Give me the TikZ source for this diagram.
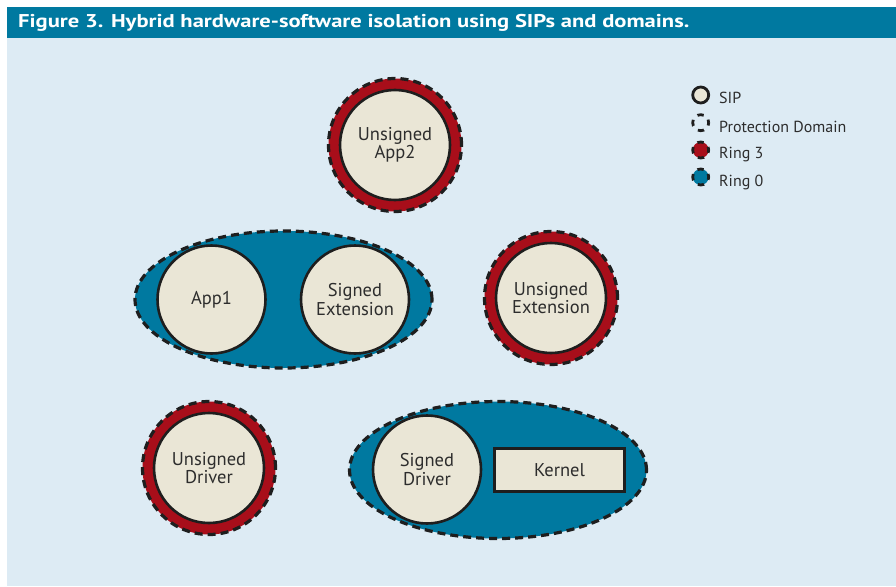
\documentclass[tikz,border=0pt]{standalone}
\usepackage{fontspec}
\setmainfont{PT Sans}
\newfontfamily\headfont{PT Sans}[FakeStretch=1.22]
\usetikzlibrary{shapes.geometric}

\definecolor{bandblue}{RGB}{0,121,160}
\definecolor{paleblue}{RGB}{221,235,244}
\definecolor{ringred}{RGB}{168,14,26}
\definecolor{ringblue}{RGB}{0,121,160}
\definecolor{cream}{RGB}{234,230,214}
\definecolor{ink}{RGB}{30,30,30}
\definecolor{txt}{RGB}{45,45,45}

\newcommand{\labelfont}{\fontsize{18.5}{18.5}\selectfont}
\newcommand{\legendfont}{\fontsize{16}{17}\selectfont}

\tikzset{
  sip/.style={circle, draw=ink, line width=2.6pt, fill=cream, inner sep=0pt,
    minimum size=110pt, align=center, text=txt, font=\labelfont},
  sipsmall/.style={sip, minimum size=108pt},
  ringthree/.style={circle, fill=ringred, draw=ink, line width=3.2pt,
    dash pattern=on 8pt off 5pt, inner sep=0pt, minimum size=133pt},
  protdomain/.style={ellipse, fill=ringblue, draw=ink, line width=3.2pt,
    dash pattern=on 8pt off 5pt, inner sep=0pt, minimum width=297pt, minimum height=137pt},
  kernelbox/.style={rectangle, draw=ink, line width=2.6pt, fill=cream, inner sep=0pt,
    minimum width=130pt, minimum height=43pt, text=txt, font=\labelfont},
  legicon/.style={circle, inner sep=0pt, minimum size=16pt, line width=2.8pt, draw=ink},
  legdash/.style={legicon, dash pattern=on 6.28pt off 6.28pt, dash phase=3.14pt},
  legtext/.style={anchor=west, text=txt, font=\legendfont, inner sep=0pt}
}

\begin{document}
\begin{tikzpicture}[x=1pt, y=-1pt]
  \useasboundingbox (0,0) rectangle (896,586);
  % page background and title band
  \fill[white] (0,0) rectangle (896,586);
  \fill[paleblue] (7,38) rectangle (896,586);
  \fill[bandblue] (7,7.5) rectangle (896,38);
  \node[anchor=west, inner sep=0pt, text=white, font=\headfont\bfseries\fontsize{18.5}{20}\selectfont]
    (title) at (18,23) {Figure 3. Hybrid hardware-software isolation using SIPs and domains.};

  % unsigned processes in ring 3
  \node[ringthree] (app2ring) at (395,145) {};
  \node[sip] (app2) at (app2ring.center) {Unsigned\\App2};

  \node[ringthree] (extring) at (551,298) {};
  \node[sip] (uext) at (extring.center) {Unsigned\\Extension};

  \node[ringthree] (drvring) at (209,468) {};
  \node[sip] (udrv) at (drvring.center) {Unsigned\\Driver};

  % ring 0 domain with App1 and the signed extension
  \node[protdomain] (dom1) at (283.5,299.5) {};
  \node[sipsmall] (app1) at (211.5,299.5) {App1};
  \node[sipsmall] (sext) at (355,299.5) {Signed\\Extension};

  % ring 0 domain with the kernel and the signed driver
  \node[protdomain] (dom2) at (498,470) {};
  \node[sipsmall] (sdrv) at (427,469.5) {Signed\\Driver};
  \node[kernelbox] (kernel) at (559.5,470) {Kernel};

  % legend
  \node[legicon, fill=cream] (lsip) at (700.7,95) {};
  \node[legtext] (tsip) at (719,98) {SIP};
  \node[legdash] (ldom) at (700.7,122.7) {};
  \node[legtext] (tdom) at (719,126.5) {Protection Domain};
  \node[legdash, fill=ringred] (lr3) at (700.7,150) {};
  \node[legtext] (tr3) at (719,154.5) {Ring 3};
  \node[legdash, fill=ringblue] (lr0) at (700.7,177) {};
  \node[legtext] (tr0) at (719,182.5) {Ring 0};
\end{tikzpicture}
\end{document}
